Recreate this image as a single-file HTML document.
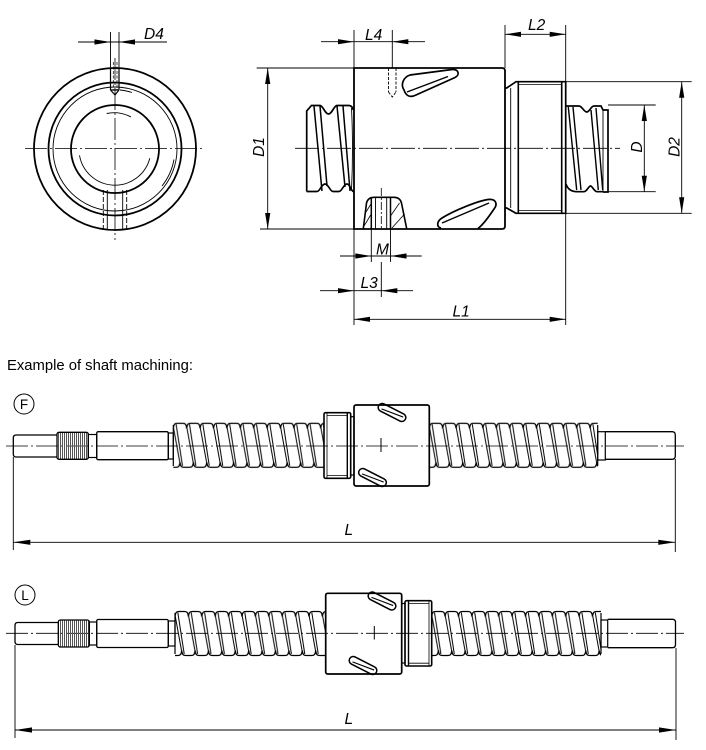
<!DOCTYPE html>
<html><head><meta charset="utf-8"><style>
html,body{margin:0;padding:0;background:#fff;}
svg{display:block;}
text{font-family:"Liberation Sans",sans-serif;fill:#000;}
.dim{font-style:italic;font-size:15.5px;}
</style></head><body>
<svg width="706" height="750" viewBox="0 0 706 750" xmlns="http://www.w3.org/2000/svg">
<defs>
 <g id="tu" fill="none" stroke="#000">
   <path d="M0,6 C0.6,1.2 2,1 4,1 H9.4 C11.4,1 12.8,1.2 13.4,6" stroke-width="1.3"/>
   <path d="M0,45 H2.7 C4.7,45 6.1,44.8 6.7,40 C7.3,44.8 8.7,45 10.7,45 H13.4" stroke-width="1.3"/>
   <path d="M0.3,6 L6.5,40 M2.8,2 L9.2,43.5" stroke-width="1"/>
 </g>
 <pattern id="thr" patternUnits="userSpaceOnUse" x="0" y="0" width="13.4" height="46">
   <use href="#tu"/><use href="#tu" x="-13.4"/><use href="#tu" x="13.4"/>
 </pattern>
 <pattern id="kn" patternUnits="userSpaceOnUse" x="0" y="0" width="2" height="10">
   <rect x="0" y="0" width="1" height="10" fill="#555"/>
 </pattern>
</defs>

<g fill="none" stroke="#000" stroke-linecap="butt">
<!-- ========== END VIEW (top-left) ========== -->
<circle cx="115" cy="149" r="81" stroke-width="1.8"/>
<circle cx="115" cy="149" r="66.5" stroke-width="1.8"/>
<circle cx="115" cy="149" r="62" stroke-width="0.9"/>
<circle cx="115" cy="149" r="44" stroke-width="1.8"/>
<path d="M79.5,155.3 A36,36 0 0 0 149.8,158.3" stroke-width="0.9"/>
<path d="M106.7,113.5 A36,36 0 0 1 131,117" stroke-width="0.9"/>
<path d="M174,159.5 A60,60 0 0 1 162,186" stroke-width="0.9"/>
<path d="M120,90 A59,59 0 0 1 132,92.5" stroke-width="0.9"/>
<!-- top hole -->
<path d="M110.5,32 V68 M119,32 V68" stroke-width="0.9"/>
<path d="M110.5,68 V90 M119,68 V90 M110.5,90 L115,95 L119,90 M110.5,90 H119" stroke-width="1.2"/>
<path d="M113.3,62 V90 M117,62 V90" stroke-width="0.7" stroke-dasharray="3 1.5"/>
<!-- bottom hole -->
<path d="M103.3,190 V230 M126.7,190 V230" stroke-width="0.9" stroke-dasharray="5 2"/>
<path d="M107.3,190 V230 M122.7,190 V230" stroke-width="0.9"/>
<!-- centerlines -->
<path d="M25,148.5 H203 M115,58 V240" stroke-width="0.8" stroke-dasharray="22 3 2 3"/>
<!-- D4 -->
<path d="M78,42 H167" stroke-width="0.9"/>

<!-- ========== SIDE VIEW (nut) ========== -->
<!-- left screw -->
<path d="M306.7,191.5 V111 L311.5,105.5 H320 C323,105.5 325,114 328.5,114 C332,114 334,105.5 337,105.5 H349 C351,105.5 352.5,107 353.3,110" stroke-width="1.7"/>
<path d="M306.7,191.5 H317 C320,191.5 321.5,184 325,184 C328.5,184 330,191.5 333,191.5 H339 C342,191.5 343.5,184 347,184 C350,184 351.5,191.5 353.3,191.5" stroke-width="1.7"/>
<path d="M314,106 L322,191 M320,106 L327,186 M337,106 L345,187 M343,106 L350,191" stroke-width="1.5"/>
<path d="M351.5,108 Q353.5,148 351.5,190" stroke-width="0.9"/>
<!-- nut body -->
<path d="M354,68 H502 Q505,68 505,71 V226 Q505,229 502,229 H354 Z" stroke-width="1.8"/>
<!-- flange -->
<path d="M505,88 L506.7,88 L516,81.7 H565.7 V213.3 H516 L506.7,208 L505,208" stroke-width="1.7"/>
<path d="M510.7,88 V208" stroke-width="0.9"/>
<path d="M518.3,81.7 V213.3 M561.7,81.7 V213.3" stroke-width="1.6"/>
<path d="M518.3,84.5 H561.7 M518.3,210.5 H561.7" stroke-width="0.8"/>
<!-- right screw -->
<path d="M566,106 H579 C582,106 584,112 586.7,112 C589.5,112 591,106 594,106 H601 L603,110 H608 V192 H603" stroke-width="1.7"/>
<path d="M566,184 C568,190 572,191.7 577,191.7 H584 C587,191.7 588.5,186 590.5,186 C592.5,186 594,191.7 597,191.7 H603" stroke-width="1.7"/>
<path d="M568.3,107 L576.7,190 M573,107 L581,190 M591,110 L598.3,190 M596,108 L602.7,190" stroke-width="1.4"/>
<path d="M603,110 V192" stroke-width="0.9"/>
<!-- upper slot -->
<path d="M404,90 C400,84 404,77 410,75 L452,69.5 C459,69 460,75 455,77.5 L416,95 C410,98 406,96 404,90 Z" stroke-width="1.7"/>
<path d="M407,92 L448,76.5" stroke-width="1.4"/>
<!-- lower slot -->
<path d="M441,228 C436,227 437,221 442,218 C455,210 478,201 488,199.5 C496,198.5 498,204 494,209 C490,215 484,224 478,228.5" stroke-width="1.7"/>
<path d="M442,223 L489,203" stroke-width="1.4"/>
<!-- top small hole -->
<path d="M388.5,68 V92 M396,68 V92 M388.5,92 L392.3,97 L396,92" stroke-width="0.9" stroke-dasharray="3 1.5"/>
<!-- bottom threaded hole section -->
<path d="M363.3,228.7 L366.5,203 Q368,197.3 374,197.3 H394 Q400,197.3 401.5,203 L406.7,228.7" stroke-width="1.6"/>
<path d="M371.3,197.3 V228.7 M390.5,197.3 V228.7" stroke-width="1.5"/>
<path d="M375.5,197.3 V228.7 M386.7,197.3 V228.7" stroke-width="0.9"/>
<path d="M364,226 L371.3,214 M366,212 L371.3,203.5 M390.5,216 L399.5,203 M392,228 L404.5,214" stroke-width="0.8"/>
<path d="M381.3,188 V229" stroke-width="0.8" stroke-dasharray="8 2 2 2"/>
<!-- centerline -->
<path d="M295,148.3 H620" stroke-width="0.8" stroke-dasharray="24 3 2 3"/>

<!-- dimension / extension lines -->
<g stroke-width="0.9">
<path d="M321,41.7 H425 M354,30 V68 M392.3,30 V68"/>
<path d="M267.7,68 V229 M256.7,68 H354 M260,229 H354"/>
<path d="M354,229 V325 M565.7,25 V82 M565.7,213 V325 M505,25 V68"/>
<path d="M340,256 H421.7 M371.3,229 V262 M390.5,229 V262"/>
<path d="M320,290.7 H413 M381.3,262 V297"/>
<path d="M354,319.3 H565.7 M505,34.3 H565.7"/>
<path d="M681.7,81.7 V213.3 M566,81.7 H691.7 M566,213.3 H691.7"/>
<path d="M644.3,105 V191.7 M608,105 H655.7 M608,191.7 H655.7"/>
</g>

<!-- ========== SHAFT F ========== -->
<circle cx="24" cy="404" r="10" stroke-width="1"/>
<path d="M6,446 H684" stroke-width="0.8" stroke-dasharray="22 3 2 3"/>
<path d="M57,435 H16 Q13.3,435 13.3,438 V454 Q13.3,457 16,457 H57" stroke-width="1.3"/>
<rect x="57" y="432.3" width="31.3" height="27" rx="2" fill="url(#kn)" stroke-width="1.3"/>
<rect x="88.3" y="434.5" width="8.4" height="23" stroke-width="1.2"/>
<rect x="96.7" y="431.7" width="71.6" height="28" rx="1.5" stroke-width="1.3"/>
<rect x="168.3" y="433" width="5" height="26" stroke-width="1.2"/>
<g transform="translate(173.3,422.3)"><rect x="0" y="0" width="150.7" height="46" fill="url(#thr)" stroke="none"/></g>
<path d="M173.3,425 V466" stroke-width="1.2"/>
<rect x="324" y="412.7" width="26.7" height="65.6" rx="1.5" stroke-width="1.6"/>
<path d="M327,412.7 V478.3" stroke-width="0.8"/>
<path d="M347.3,412.7 V478.3" stroke-width="1.4"/>
<path d="M327,415.5 H347.3 M327,475.5 H347.3" stroke-width="0.8"/>
<rect x="350.7" y="416.7" width="3.3" height="58.3" stroke-width="1.2"/>
<rect x="354" y="405" width="75.3" height="81" rx="2" stroke-width="1.7"/>
<g transform="translate(392,412.5) rotate(27)"><rect x="-15" y="-4" width="30" height="8" rx="4" stroke-width="1.5"/><path d="M-11,1.5 L12,-1" stroke-width="1.1"/></g>
<g transform="translate(372.5,477.5) rotate(27)"><rect x="-15" y="-4" width="30" height="8" rx="4" stroke-width="1.5"/><path d="M-11,1.5 L12,-1" stroke-width="1.1"/></g>
<path d="M381,438 V452" stroke-width="1"/>
<g transform="translate(429.3,422.3)"><rect x="0" y="0" width="168.4" height="46" fill="url(#thr)" stroke="none"/></g>
<path d="M429.3,425 V466 M597.7,425 V466" stroke-width="1.2"/>
<rect x="597.7" y="431.7" width="7.6" height="28.3" stroke-width="1.2"/>
<path d="M605.3,431.7 H672 Q675.3,431.7 675.3,435 V456 Q675.3,459.3 672,459.3 H605.3" stroke-width="1.3"/>
<path d="M13.3,457 V550 M675.3,459 V552 M13.3,542.3 H675.3" stroke-width="0.9"/>

<!-- ========== SHAFT L ========== -->
<circle cx="25" cy="595" r="10" stroke-width="1"/>
<path d="M6,633.3 H684" stroke-width="0.8" stroke-dasharray="22 3 2 3"/>
<path d="M58.3,622.5 H17.7 Q15,622.5 15,625.5 V641.5 Q15,644.5 17.7,644.5 H58.3" stroke-width="1.3"/>
<rect x="58.3" y="620" width="31" height="27" rx="2" fill="url(#kn)" stroke-width="1.3"/>
<rect x="89.3" y="622" width="7.4" height="23" stroke-width="1.2"/>
<rect x="96.7" y="619.5" width="71.6" height="28" rx="1.5" stroke-width="1.3"/>
<rect x="168.3" y="621" width="6.7" height="25" stroke-width="1.2"/>
<g transform="translate(175,610.5)"><rect x="0" y="0" width="150.7" height="46" fill="url(#thr)" stroke="none"/></g>
<path d="M175,613 V654" stroke-width="1.2"/>
<rect x="325.7" y="593.3" width="76" height="80.7" rx="2" stroke-width="1.7"/>
<g transform="translate(382,601) rotate(27)"><rect x="-15" y="-4" width="30" height="8" rx="4" stroke-width="1.5"/><path d="M-11,1.5 L12,-1" stroke-width="1.1"/></g>
<g transform="translate(363,665.5) rotate(27)"><rect x="-15" y="-4" width="30" height="8" rx="4" stroke-width="1.5"/><path d="M-11,1.5 L12,-1" stroke-width="1.1"/></g>
<path d="M374.3,626 V639.5" stroke-width="1"/>
<rect x="401.7" y="603.5" width="3.3" height="59.5" stroke-width="1.2"/>
<rect x="405" y="600.7" width="26.7" height="65.3" rx="1.5" stroke-width="1.6"/>
<path d="M408.5,600.7 V666" stroke-width="1.4"/>
<path d="M429,600.7 V666" stroke-width="0.8"/>
<path d="M408.5,603.5 H429 M408.5,663.2 H429" stroke-width="0.8"/>
<g transform="translate(431.7,610.5)"><rect x="0" y="0" width="169.3" height="46" fill="url(#thr)" stroke="none"/></g>
<path d="M601,613 V654" stroke-width="1.2"/>
<rect x="601" y="620" width="6.7" height="27" stroke-width="1.2"/>
<path d="M607.7,619.3 H672.5 Q675.5,619.3 675.5,622.5 V644.5 Q675.5,647.7 672.5,647.7 H607.7" stroke-width="1.3"/>
<path d="M15,645 V738 M676,648 V740 M15,730 H676" stroke-width="0.9"/>
</g>

<!-- arrowheads -->
<g fill="#000" stroke="none">
<polygon points="110.5,42 94.5,39.4 94.5,44.6"/>
<polygon points="119,42 135,39.4 135,44.6"/>
<polygon points="354,41.7 338,39.1 338,44.3"/>
<polygon points="392.3,41.7 408.3,39.1 408.3,44.3"/>
<polygon points="267.7,68 265.1,84 270.3,84"/>
<polygon points="267.7,229 265.1,213 270.3,213"/>
<polygon points="371.3,256 355.3,253.4 355.3,258.6"/>
<polygon points="390.5,256 406.5,253.4 406.5,258.6"/>
<polygon points="354,290.7 338,288.1 338,293.3"/>
<polygon points="381.3,290.7 397.3,288.1 397.3,293.3"/>
<polygon points="354,319.3 370,316.7 370,321.9"/>
<polygon points="565.7,319.3 549.7,316.7 549.7,321.9"/>
<polygon points="505,34.3 521,31.7 521,36.9"/>
<polygon points="565.7,34.3 549.7,31.7 549.7,36.9"/>
<polygon points="681.7,81.7 679.1,97.7 684.3,97.7"/>
<polygon points="681.7,213.3 679.1,197.3 684.3,197.3"/>
<polygon points="644.3,105 641.7,121 646.9,121"/>
<polygon points="644.3,191.7 641.7,175.7 646.9,175.7"/>
<polygon points="13.3,542.3 30.3,539.7 30.3,544.9"/>
<polygon points="675.3,542.3 658.3,539.7 658.3,544.9"/>
<polygon points="15,730 32,727.4 32,732.6"/>
<polygon points="676,730 659,727.4 659,732.6"/>
</g>

<!-- labels -->
<text class="dim" x="144" y="39">D4</text>
<text class="dim" x="365" y="40">L4</text>
<text class="dim" x="528" y="30">L2</text>
<text class="dim" x="376" y="254.5">M</text>
<text class="dim" x="360.5" y="288">L3</text>
<text class="dim" x="452.5" y="316.5">L1</text>
<text class="dim" text-anchor="middle" transform="translate(264,147) rotate(-90)">D1</text>
<text class="dim" text-anchor="middle" transform="translate(642,147) rotate(-90)">D</text>
<text class="dim" text-anchor="middle" transform="translate(679.5,147) rotate(-90)">D2</text>
<text x="7" y="370" font-size="15" textLength="186" lengthAdjust="spacingAndGlyphs">Example of shaft machining:</text>
<text x="24" y="409" font-size="13.5" text-anchor="middle">F</text>
<text x="25" y="600" font-size="13.5" text-anchor="middle">L</text>
<text class="dim" x="344.5" y="535">L</text>
<text class="dim" x="344.5" y="724">L</text>
</svg>
</body></html>
